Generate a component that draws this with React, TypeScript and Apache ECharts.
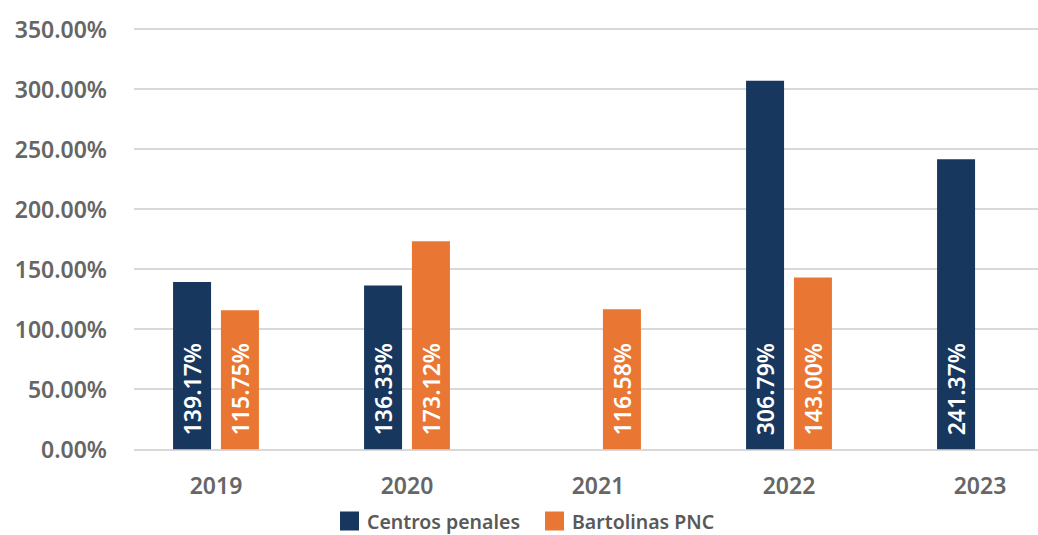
import React, { useEffect, useRef } from "react";
import * as echarts from "echarts";

const years = ["2019", "2020", "2021", "2022", "2023"];
const centrosPenales: (number | null)[] = [139.17, 136.33, null, 306.79, 241.37];
const bartolinasPNC: (number | null)[] = [115.75, 173.12, 116.58, 143.0, null];
const seriesNames = ["Centros penales", "Bartolinas PNC"];
const yMin = 0;
const yMax = 350;
const yStep = 50;

const FONT = "'Noto Sans', 'DejaVu Sans', sans-serif";
const NAVY = "#17375E";
const ORANGE = "#E97632";

export default function App() {
  const ref = useRef<HTMLDivElement>(null);
  useEffect(() => {
    if (!ref.current) return;
    const chart = echarts.init(ref.current, null, { renderer: "svg" });
    const barLabel = {
      show: true,
      position: "insideBottom",
      rotate: 90,
      align: "left",
      verticalAlign: "middle",
      distance: 14,
      color: "#ffffff",
      fontFamily: FONT,
      fontWeight: 600,
      fontSize: 23,
      formatter: (p: any) => p.value.toFixed(2) + "%",
    };
    chart.setOption({
      animation: false,
      backgroundColor: "#ffffff",
      textStyle: { fontFamily: FONT },
      legend: {
        top: 511,
        left: 340,
        padding: 0,
        itemWidth: 19,
        itemHeight: 19,
        itemGap: 25,
        icon: "rect",
        textStyle: {
          color: "#595959",
          fontSize: 19.5,
          lineHeight: 20,
          fontWeight: 600,
          fontFamily: FONT,
          padding: [0, 0, 0, 3],
        },
        data: seriesNames,
      },
      grid: [
        { left: 134, right: 0, top: 28.7, bottom: 85.7, outerBoundsMode: "none" },
        { left: 120.5, width: 955, top: 28.7, bottom: 85.7, outerBoundsMode: "none" },
      ],
      xAxis: [
        { type: "category", gridIndex: 0, data: years, show: false },
        {
          type: "category",
          gridIndex: 1,
          data: years,
          axisLine: { show: false },
          axisTick: { show: false },
          axisLabel: {
            color: "#666666",
            fontSize: 23,
            fontWeight: 600,
            fontFamily: FONT,
            margin: 24,
          },
        },
      ],
      yAxis: [
        {
          type: "value",
          gridIndex: 0,
          min: yMin,
          max: yMax,
          interval: yStep,
          axisLine: { show: false },
          axisTick: { show: false },
          splitLine: { lineStyle: { color: "#d9d9d9", width: 2 } },
          axisLabel: {
            color: "#666666",
            fontSize: 23,
            fontWeight: 600,
            fontFamily: FONT,
            margin: 27,
            formatter: (v: number) => v.toFixed(2) + "%",
          },
        },
        {
          type: "value",
          gridIndex: 1,
          min: yMin,
          max: yMax,
          interval: yStep,
          show: false,
          splitLine: { show: false },
        },
      ],
      series: [
        {
          name: seriesNames[0],
          type: "bar",
          xAxisIndex: 1,
          yAxisIndex: 1,
          data: centrosPenales,
          barWidth: 38,
          barGap: "26%",
          itemStyle: { color: NAVY },
          label: barLabel,
        },
        {
          name: seriesNames[1],
          type: "bar",
          xAxisIndex: 1,
          yAxisIndex: 1,
          data: bartolinasPNC,
          barWidth: 38,
          barGap: "26%",
          itemStyle: { color: ORANGE },
          label: barLabel,
        },
      ],
    });
    return () => chart.dispose();
  }, []);
  return (
    <div
      ref={ref}
      style={{ position: "fixed", left: 0, top: 0, width: 1038, height: 535 }}
    />
  );
}
